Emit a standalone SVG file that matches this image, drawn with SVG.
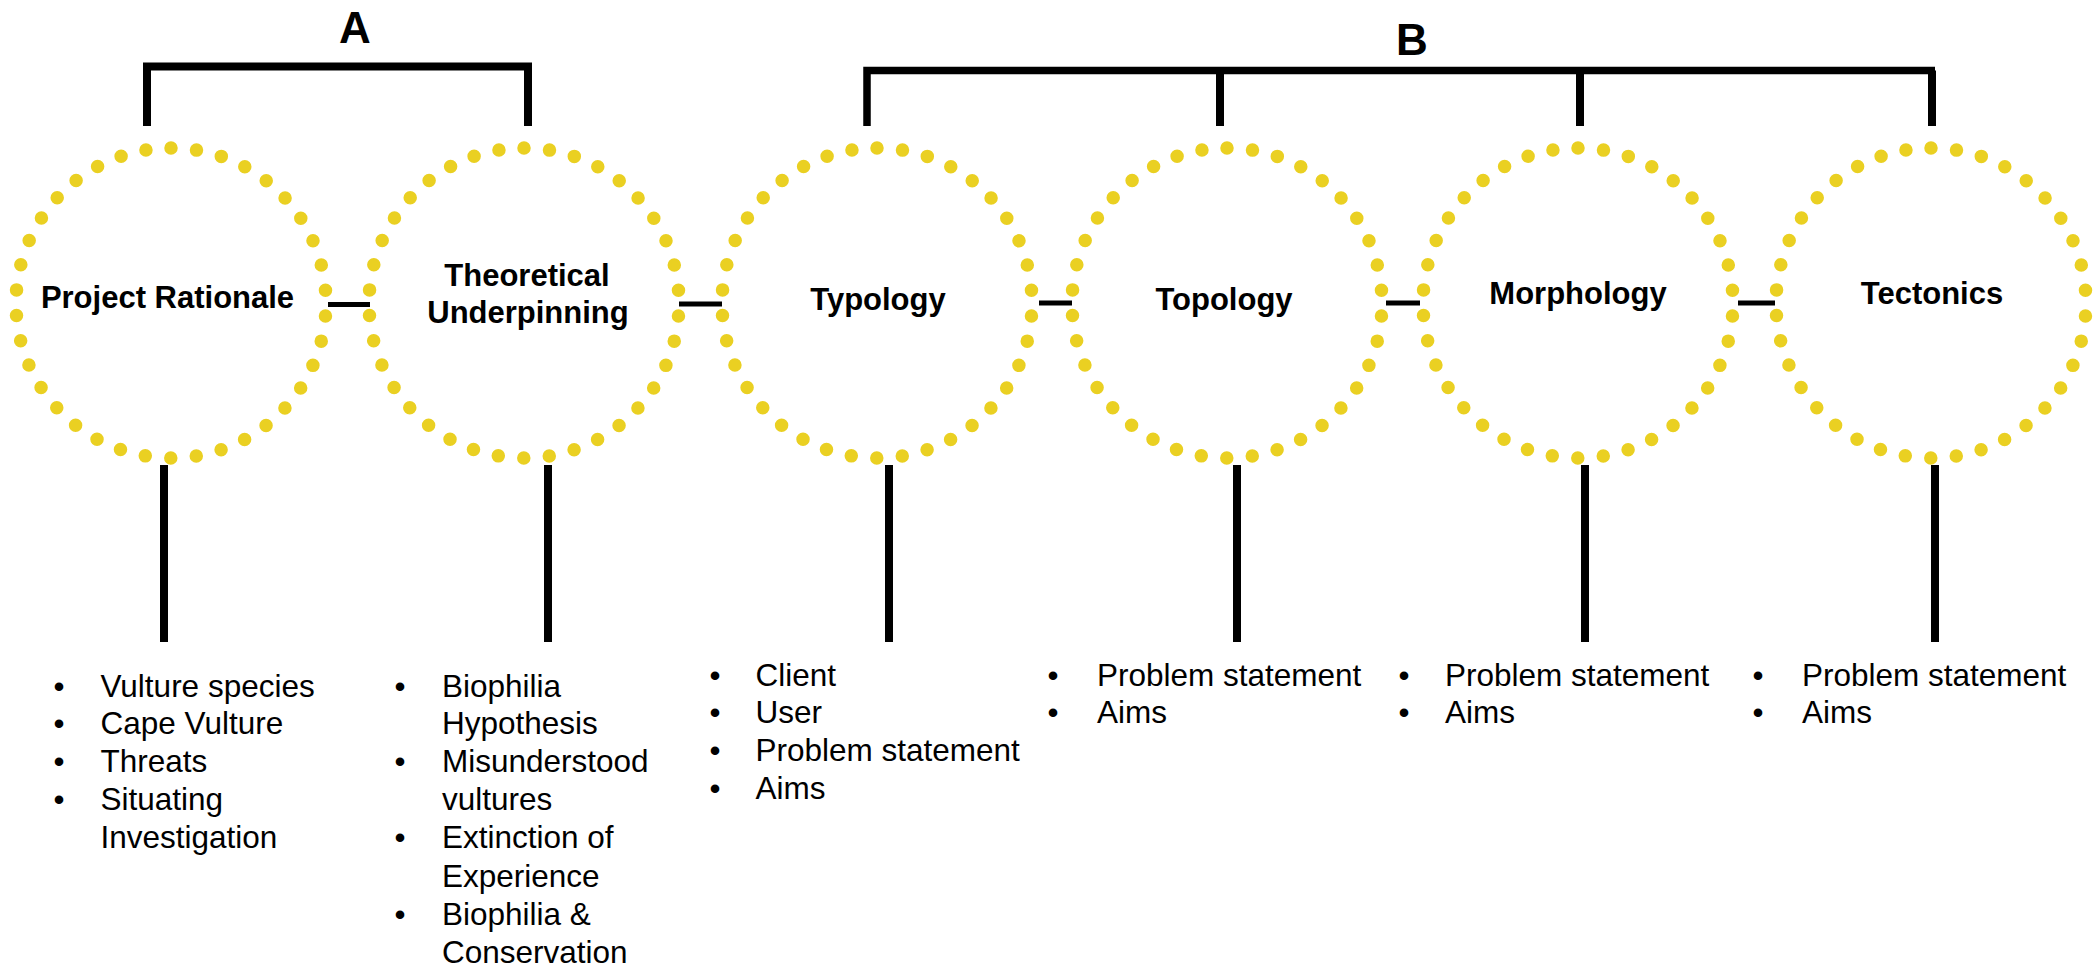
<svg xmlns="http://www.w3.org/2000/svg" width="2098" height="971" viewBox="0 0 2098 971">
<style>
.ring{fill:none;stroke:#EAD022;stroke-width:13.5;stroke-linecap:round;stroke-dasharray:0 25.63}
.lbl{font-family:"Liberation Sans",Arial,sans-serif;font-weight:bold;font-size:31px;fill:#000;text-anchor:middle}
.hdr{font-family:"Liberation Sans",Arial,sans-serif;font-weight:bold;font-size:44px;fill:#000;text-anchor:middle}
.li{font-family:"Liberation Sans",Arial,sans-serif;font-size:31.5px;fill:#000}
.bul{font-family:"Liberation Sans",Arial,sans-serif;font-size:31.5px;fill:#000;text-anchor:middle}
.ln{stroke:#000;fill:none;stroke-linecap:butt}
</style>
<rect width="2098" height="971" fill="#fff"/>
<g id="connectors">
  <path class="ln" stroke-width="8" d="M147,126 V66.5 H528 V126"/>
  <path class="ln" stroke-width="7.5" d="M867,126 V70.5 H1935"/>
  <path class="ln" stroke-width="8" d="M1220,70.5 V126 M1580,70.5 V126 M1932,70.5 V126"/>
  <path class="ln" stroke-width="4.8" d="M328,304.5 H370 M679,304 H722 M1039,303 H1072 M1386,303 H1420 M1738,303 H1775"/>
  <path class="ln" stroke-width="8" d="M164,465 V642 M548,465 V642 M889,465 V642 M1237,465 V642 M1585,465 V642 M1935,465 V642"/>
</g>
<g id="labelA"><text class="hdr" x="355" y="43">A</text></g>
<g id="labelB"><text class="hdr" x="1412" y="55">B</text></g>
<g id="node-project-rationale">
  <path class="ring" d="M171,148 A155,155 0 1 1 171,458 A155,155 0 1 1 171,148"/>
  <text class="lbl" x="167.5" y="308">Project Rationale</text>
  <text class="bul" x="59" y="697">•</text><text class="li" x="100.5" y="697">Vulture species</text>
  <text class="bul" x="59" y="734">•</text><text class="li" x="100.5" y="734">Cape Vulture</text>
  <text class="bul" x="59" y="772">•</text><text class="li" x="100.5" y="772">Threats</text>
  <text class="bul" x="59" y="810">•</text><text class="li" x="100.5" y="810">Situating</text>
  <text class="li" x="100.5" y="848">Investigation</text>
</g>
<g id="node-theoretical-underpinning">
  <path class="ring" d="M524,148 A155,155 0 1 1 524,458 A155,155 0 1 1 524,148"/>
  <text class="lbl" x="527" y="286">Theoretical</text>
  <text class="lbl" x="528" y="323">Underpinning</text>
  <text class="bul" x="400" y="697">•</text><text class="li" x="442" y="697">Biophilia</text>
  <text class="li" x="442" y="734">Hypothesis</text>
  <text class="bul" x="400" y="772">•</text><text class="li" x="442" y="772">Misunderstood</text>
  <text class="li" x="442" y="810">vultures</text>
  <text class="bul" x="400" y="848">•</text><text class="li" x="442" y="848">Extinction of</text>
  <text class="li" x="442" y="887">Experience</text>
  <text class="bul" x="400" y="925">•</text><text class="li" x="442" y="925">Biophilia &amp;</text>
  <text class="li" x="442" y="963">Conservation</text>
</g>
<g id="node-typology">
  <path class="ring" d="M877,148 A155,155 0 1 1 877,458 A155,155 0 1 1 877,148"/>
  <text class="lbl" x="878" y="310">Typology</text>
  <text class="bul" x="715" y="686">•</text><text class="li" x="755.5" y="686">Client</text>
  <text class="bul" x="715" y="723">•</text><text class="li" x="755.5" y="723">User</text>
  <text class="bul" x="715" y="761">•</text><text class="li" x="755.5" y="761">Problem statement</text>
  <text class="bul" x="715" y="799">•</text><text class="li" x="755.5" y="799">Aims</text>
</g>
<g id="node-topology">
  <path class="ring" d="M1227,148 A155,155 0 1 1 1227,458 A155,155 0 1 1 1227,148"/>
  <text class="lbl" x="1224" y="310">Topology</text>
  <text class="bul" x="1053" y="686">•</text><text class="li" x="1097" y="686">Problem statement</text>
  <text class="bul" x="1053" y="723">•</text><text class="li" x="1097" y="723">Aims</text>
</g>
<g id="node-morphology">
  <path class="ring" d="M1578,148 A155,155 0 1 1 1578,458 A155,155 0 1 1 1578,148"/>
  <text class="lbl" x="1578" y="304">Morphology</text>
  <text class="bul" x="1404" y="686">•</text><text class="li" x="1445" y="686">Problem statement</text>
  <text class="bul" x="1404" y="723">•</text><text class="li" x="1445" y="723">Aims</text>
</g>
<g id="node-tectonics">
  <path class="ring" d="M1931,148 A155,155 0 1 1 1931,458 A155,155 0 1 1 1931,148"/>
  <text class="lbl" x="1932" y="304">Tectonics</text>
  <text class="bul" x="1758" y="686">•</text><text class="li" x="1802" y="686">Problem statement</text>
  <text class="bul" x="1758" y="723">•</text><text class="li" x="1802" y="723">Aims</text>
</g>
</svg>
